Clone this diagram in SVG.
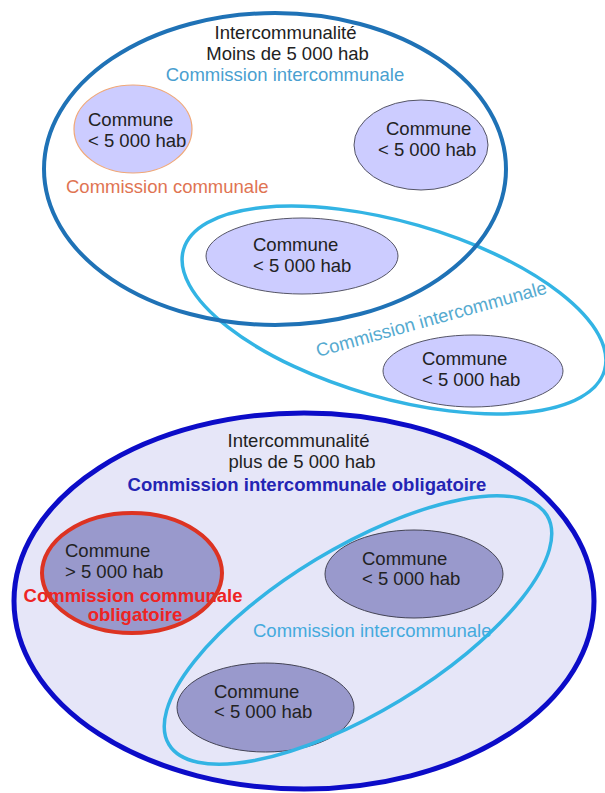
<svg xmlns="http://www.w3.org/2000/svg" width="605" height="793" viewBox="0 0 605 793">
<style>
text{font-family:"Liberation Sans",Arial,sans-serif;font-size:18.5px;fill:#222}
.c{text-anchor:middle}
.b{font-weight:bold}
.com1{fill:#ccccff;stroke:#555566;stroke-width:1}
.com2{fill:#9999cc;stroke:#444455;stroke-width:1}
.inter1{fill:none;stroke:#1f72b6;stroke-width:4}
.light{fill:none;stroke:#33b4e4;stroke-width:3.5}
.tlb{fill:#4a9fd0}
</style>
<rect width="605" height="793" fill="#ffffff"/>

<!-- Top: intercommunalité < 5000 -->
<g id="inter-moins">
  <ellipse class="light" cx="394" cy="310" rx="219" ry="88" transform="rotate(16 394 310)"/>
  <ellipse class="inter1" cx="275" cy="169" rx="231" ry="156"/>
  <text class="c" x="285.5" y="39">Intercommunalité</text>
  <text class="c" x="287.5" y="60">Moins de 5 000 hab</text>
  <text class="c tlb" x="285" y="81">Commission intercommunale</text>
  <text x="318" y="357" transform="rotate(-15.5 318 357)" style="fill:#55aad0">Commission intercommunale</text>
</g>
<g id="commune-t1">
  <ellipse cx="133" cy="129" rx="59" ry="44" fill="#ccccff" stroke="#f0a878" stroke-width="1.2"/>
  <text x="88" y="126">Commune</text>
  <text x="88" y="147">&lt; 5 000 hab</text>
  <text x="66" y="193" style="fill:#e07452">Commission communale</text>
</g>
<g id="commune-t2">
  <ellipse class="com1" cx="421" cy="145" rx="67" ry="45"/>
  <text x="386" y="135">Commune</text>
  <text x="378" y="156">&lt; 5 000 hab</text>
</g>
<g id="commune-t3">
  <ellipse class="com1" cx="302" cy="256" rx="96" ry="38"/>
  <text x="253" y="251">Commune</text>
  <text x="253" y="272">&lt; 5 000 hab</text>
</g>
<g id="commune-t4">
  <ellipse class="com1" cx="473" cy="371" rx="90" ry="36"/>
  <text x="422" y="365">Commune</text>
  <text x="422" y="386">&lt; 5 000 hab</text>
</g>

<!-- Bottom: intercommunalité > 5000 -->
<g id="inter-plus">
  <ellipse cx="304" cy="601" rx="290" ry="188" fill="#e6e6f8" stroke="#0c0cc8" stroke-width="5"/>
  <text class="c" x="298.5" y="447">Intercommunalité</text>
  <text class="c" x="302" y="468">plus de 5 000 hab</text>
  <text class="c b" x="307" y="491" style="fill:#2424b4">Commission intercommunale obligatoire</text>
</g>
<g id="commune-b1">
  <ellipse cx="132" cy="573" rx="90" ry="60" fill="#9999cc"/>
  <text x="65" y="557">Commune</text>
  <text x="65" y="578">&gt; 5 000 hab</text>
  <text class="c b" x="133" y="602" style="fill:#ee2424">Commission communale</text>
  <text class="c b" x="135" y="621" style="fill:#ee2424">obligatoire</text>
  <ellipse cx="132" cy="573" rx="90" ry="60" fill="none" stroke="#dd3322" stroke-width="4"/>
</g>
<g id="commune-b2">
  <ellipse class="com2" cx="414" cy="574" rx="89" ry="44"/>
  <text x="362" y="565">Commune</text>
  <text x="362" y="585">&lt; 5 000 hab</text>
</g>
<g id="commune-b3">
  <ellipse class="com2" cx="265.5" cy="707.5" rx="88.5" ry="44.5"/>
  <text x="214" y="698">Commune</text>
  <text x="214" y="718">&lt; 5 000 hab</text>
</g>
<g id="groupe-b">
  <text x="253" y="637" style="fill:#44aadd">Commission intercommunale</text>
  <ellipse class="light" cx="358" cy="630" rx="221" ry="82" transform="rotate(-31.2 358 630)"/>
</g>
</svg>
